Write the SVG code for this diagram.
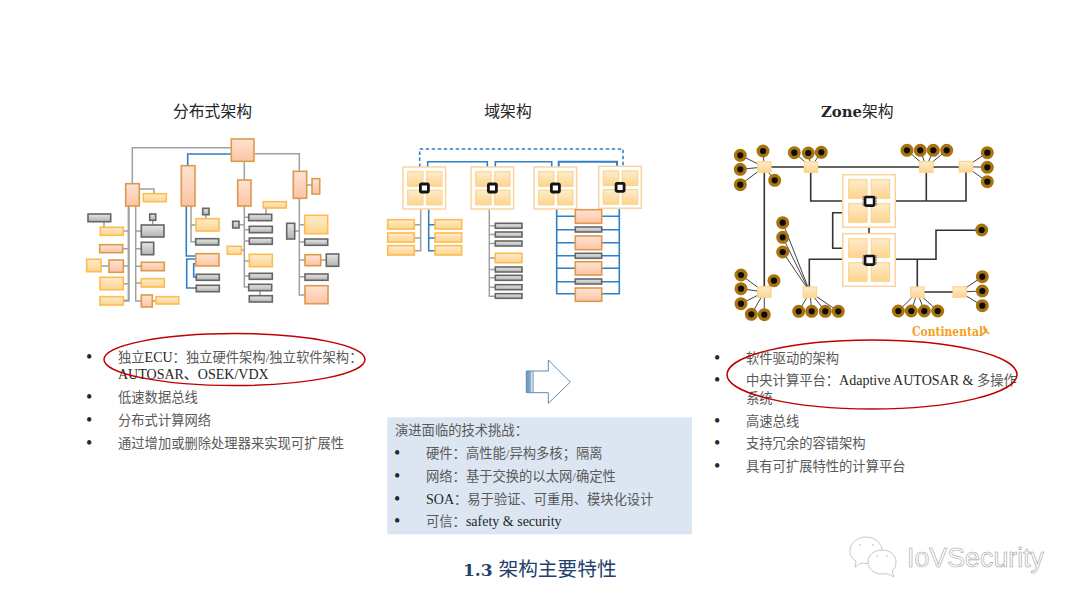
<svg xmlns="http://www.w3.org/2000/svg" xmlns:xlink="http://www.w3.org/1999/xlink" width="1080" height="608" viewBox="0 0 1080 608">
<style>
text{font-family:"Liberation Serif","Noto Sans CJK SC",serif;font-size:13.3px;fill:#595959}
.t{font-size:15.8px;fill:#262626}
.la{fill:#262626;font-size:14px}
.b{fill:#262626;font-size:18px}
.a{fill:url(#ga);stroke:#dd9a4c;stroke-width:1.6}
.y{fill:url(#gy);stroke:#fdbb50;stroke-width:1.6}
.g{fill:url(#gg);stroke:#666;stroke-width:1.6}
.s{fill:url(#gy);stroke:#fbd58e;stroke-width:1.2}
.cg,.cb,.cd,.cdt{fill:none}
.cg{stroke:#a0a0a0;stroke-width:1.5}
.cb{stroke:#2f80c6;stroke-width:1.6}
.cd{stroke:#333;stroke-width:1.6}
.cdt{stroke:#444;stroke-width:1}
.dot{fill:#0c0c0c;stroke:#a8720f;stroke-width:3.4}
.ell{fill:none;stroke:#c00000;stroke-width:1.5}
</style>
<defs>
<linearGradient id="ga" x1="0" y1="0" x2="0" y2="1"><stop offset="0" stop-color="#fee3d3"/><stop offset="1" stop-color="#fcc4a3"/></linearGradient>
<linearGradient id="gy" x1="0" y1="0" x2="0" y2="1"><stop offset="0" stop-color="#feeccd"/><stop offset="1" stop-color="#fdd48e"/></linearGradient>
<linearGradient id="gg" x1="0" y1="0" x2="0" y2="1"><stop offset="0" stop-color="#e6e6e6"/><stop offset="1" stop-color="#b4b4b4"/></linearGradient>
<g id="dom">
<rect x="0" y="0" width="42.6" height="42" fill="#fff" stroke="#fbd3a0" stroke-width="1.5"/>
<rect class="s" x="4.7" y="4.7" width="15.3" height="14.6"/><rect class="s" x="23.7" y="4.7" width="15.3" height="14.6"/>
<rect class="s" x="4.7" y="23.3" width="15.3" height="14.6"/><rect class="s" x="23.7" y="23.3" width="15.3" height="14.6"/>
<rect x="17.4" y="17" width="8" height="8" rx="1.2" fill="#fff" stroke="#151515" stroke-width="2.8"/>
</g>
<g id="cen">
<rect x="0" y="0" width="52.6" height="52.6" fill="#fff" stroke="#fbd3a0" stroke-width="1.5"/>
<rect class="s" x="6" y="5" width="18.3" height="18.6"/><rect class="s" x="28.6" y="5" width="18.3" height="18.6"/>
<rect class="s" x="6" y="29" width="18.3" height="18.6"/><rect class="s" x="28.6" y="29" width="18.3" height="18.6"/>
<rect x="20.4" y="22" width="13" height="8.6" fill="none" stroke="#333" stroke-width="1" stroke-dasharray=".8 .8"/>
<rect x="22.4" y="22.3" width="9" height="8.6" rx="1" fill="#fff" stroke="#151515" stroke-width="2.6"/>
</g>
<circle id="d" class="dot" r="4.8"/>
</defs>
<rect width="1080" height="608" fill="#fff"/>

<text class="t" x="212.500" y="116.500" text-anchor="middle">分布式架构</text>
<text class="t" x="508" y="116.500" text-anchor="middle">域架构</text>
<text class="t" x="821" y="116.500" style="font-family:'DejaVu Serif','Noto Sans CJK SC',serif;font-weight:700;font-size:14px" textLength="41" lengthAdjust="spacingAndGlyphs">Zone</text>
<text class="t" x="862" y="116.500">架构</text>

<g id="connectors">
<path class="cg" d="M231 147.700H132.300V184M254 153.700H299.300V172M244.300 161V180M129 231H123M129 248.700H122.700M129 266H123M129 283.700H123"/>
<path class="cg" style="stroke-width:2.2" d="M128.700 206V300.700H123"/>
<path class="cg" d="M135.700 206V301H141M135.700 231H141M135.700 248.700H141M135.700 266.300H141M135.700 283H141M139.300 189H154V193.700M152.700 220.300V225M104 221.700V227.300M101 266H109M152.300 301H156"/>
<path class="cb" d="M231 154H187.700V166M186.300 206V256H195.700M195.700 259H186.700V288H196.300M195.700 263.700H193.700V277H196.300"/>
<path class="cg" d="M191 206V241.700H195.700M191 225H196M205.800 214.700V218.700"/>
<path class="cg" d="M244.300 206V287H248.700M244.300 217.300H248.700M244.300 229.700H249.300M244.300 241H249.300M244.300 261H249.300M244.300 276H249.300M239 224.700H244.300M241.300 250H244.300M260 290.700V295.700M266 208V214.300"/>
<path class="cg" d="M299.300 198V295H305M299.300 224.700H304.700M299.300 242H304.700M299.300 260H305M299.300 276.700H305M294.700 231H299.300M306.700 185H312M320.700 260H326.300"/>

<path class="cb" stroke-dasharray="3.500 2.500" d="M419.700 167V149H623V166"/>
<path class="cb" d="M427.700 167V161.700H487.300V167M495.300 167V161.700H551.700V167"/>
<path class="cb" style="stroke-width:2" d="M558.700 167V161.700H617V166"/>
<path class="cg" d="M420.700 209V250.700H414.300M420.700 224.700H414.300M420.700 238H414.300M489.300 209V296.300H495.300M489.300 225.800H495.300M489.300 234.500H495.300M489.300 243.500H495.300M489.300 258H495.300M489.300 269.500H495.300M489.300 277.800H495.300M489.300 287.200H495.300"/>
<path class="cb" d="M428.700 209V250.700H435M428.700 224.700H435M428.700 238H435"/>
<path class="cb" d="M556.700 209V293.700H575.300M619.300 208V293.700H601.700M556.700 216.300H575.300M556.700 229.700H575.300M556.700 242.700H575.300M556.700 255.700H575.300M556.700 268.300H575.300M556.700 281.700H575.300M601.700 216.300H619.300M601.700 229.700H619.300M601.700 242.700H619.300M601.700 255.700H619.300M601.700 268.300H619.300M601.700 281.700H619.300"/>

<path class="cd" d="M764.300 167H966M764.300 167V292M810.700 167V201H842.700M926.300 167V201M895.300 201H966V167M869 227.300V233.700M842.700 212.700H832.700V248.300H842.700M842.700 259.300H809.300V292M895.300 259.300H936V230.300H981.700M917.300 259.300V292M917.300 292H959.700"/>
<path class="cdt" d="M764.300 167L740.300 155.300M764.300 167L740.300 169.300M764.300 167L740.300 184.700M764.300 167L763 151M764.300 167L774.700 180.300M811 167L794.300 152.700M811 167L808.300 153M811 167L821.300 152.300M926.300 167L907 150.300M926.300 167L920.300 150.300M926.300 167L933.300 150.300M926.300 167L946.700 150.300M966 166.700L987.300 152.700M966 166.700L987.300 167.300M966 166.700L987.300 181.700M764.300 292L741 275M764.300 292L741 288.700M764.300 292L741 303.700M764.300 292L774 280.700M764.300 292L751.300 314.300M764.300 292L764.300 314.700M810 292.300L782.700 222.700M810 292.300L782.700 237.300M810 292.300L782.700 252M810 292.300L798.700 311.300M810 292.300L811.700 311.300M810 292.300L825.300 311.300M810 292.300L838.300 311.300M917.300 292.300L898.300 311M917.300 292.300L911.300 311M917.300 292.300L924.300 311M917.300 292.300L937.700 311M959.700 292L982.300 276.700M959.700 292L982.300 291M959.700 292L982.300 305.700"/>
</g>

<g id="n-d1-root"><rect class="a" x="231.300" y="139" width="22.700" height="22.300"/></g>
<g id="n-d1-a"><rect class="a" x="125.700" y="183.700" width="13.600" height="22.300"/></g>
<g id="n-d1-b"><rect class="a" x="181.300" y="165.700" width="13.700" height="40.300"/></g>
<g id="n-d1-c"><rect class="a" x="237.700" y="180" width="13.300" height="26"/></g>
<g id="n-d1-d"><rect class="a" x="293.300" y="171.300" width="13.400" height="27"/></g>
<g id="n-d1-d2"><rect class="a" x="312" y="178.700" width="7.700" height="15.300"/></g>
<g id="n-d1-1"><rect class="y" x="143.300" y="193.700" width="23" height="8"/></g>
<g id="n-d1-2"><rect class="g" x="88" y="214" width="22.700" height="7.700"/></g>
<g id="n-d1-3"><rect class="y" x="100.300" y="227.300" width="23" height="8"/></g>
<g id="n-d1-4"><rect class="a" x="99.700" y="244.700" width="23" height="8"/></g>
<g id="n-d1-5"><rect class="y" x="86.700" y="259.300" width="14.300" height="12.400"/></g>
<g id="n-d1-6"><rect class="a" x="109" y="260" width="14.300" height="12.300"/></g>
<g id="n-d1-7"><rect class="y" x="100" y="277.300" width="23.300" height="12.400"/></g>
<g id="n-d1-8"><rect class="y" x="100" y="296.700" width="23.300" height="8.300"/></g>
<g id="n-d1-9"><rect class="g" x="149.700" y="214" width="6" height="6.300"/></g>
<g id="n-d1-10"><rect class="g" x="141.300" y="225" width="22.700" height="12"/></g>
<g id="n-d1-11"><rect class="g" x="141.300" y="242.300" width="12.400" height="12.400"/></g>
<g id="n-d1-12"><rect class="a" x="141.300" y="262.300" width="23" height="8.400"/></g>
<g id="n-d1-13"><rect class="y" x="141.300" y="278.700" width="23" height="8.300"/></g>
<g id="n-d1-14"><rect class="a" x="141.300" y="295" width="11" height="12"/></g>
<g id="n-d1-15"><rect class="y" x="156" y="296.700" width="22.700" height="7.300"/></g>
<g id="n-d1-16"><rect class="g" x="202.700" y="208.300" width="6.300" height="6.400"/></g>
<g id="n-d1-17"><rect class="y" x="196" y="218.700" width="23" height="12.300"/></g>
<g id="n-d1-18"><rect class="g" x="195.700" y="238.700" width="23" height="6.300"/></g>
<g id="n-d1-19"><rect class="a" x="195.700" y="253.700" width="23.300" height="12.300"/></g>
<g id="n-d1-20"><rect class="g" x="196.300" y="274.300" width="23" height="6"/></g>
<g id="n-d1-21"><rect class="g" x="196.300" y="285.300" width="23" height="6.400"/></g>
<g id="n-d1-22"><rect class="y" x="263.300" y="201.700" width="23" height="6.300"/></g>
<g id="n-d1-23"><rect class="g" x="248.700" y="214.300" width="23" height="6.400"/></g>
<g id="n-d1-24"><rect class="g" x="232.700" y="221.300" width="6.300" height="6.700"/></g>
<g id="n-d1-25"><rect class="g" x="249.300" y="226.300" width="23" height="6.400"/></g>
<g id="n-d1-26"><rect class="g" x="249.300" y="238" width="23" height="6.300"/></g>
<g id="n-d1-27"><rect class="y" x="227.300" y="246.300" width="14" height="8"/></g>
<g id="n-d1-28"><rect class="y" x="249.300" y="254.300" width="23" height="12.400"/></g>
<g id="n-d1-29"><rect class="g" x="249.300" y="273.300" width="23" height="6"/></g>
<g id="n-d1-30"><rect class="g" x="248.700" y="284.300" width="23" height="6.400"/></g>
<g id="n-d1-31"><rect class="g" x="249.300" y="295.700" width="23" height="6.300"/></g>
<g id="n-d1-32"><rect class="g" x="286.700" y="223.300" width="8" height="15.700"/></g>
<g id="n-d1-33"><rect class="y" x="304.700" y="215.300" width="23" height="18.400"/></g>
<g id="n-d1-34"><rect class="g" x="304.700" y="239" width="23" height="6.300"/></g>
<g id="n-d1-35"><rect class="a" x="305" y="254.700" width="15.700" height="11"/></g>
<g id="n-d1-36"><rect class="g" x="326.300" y="254" width="12.400" height="12.300"/></g>
<g id="n-d1-37"><rect class="g" x="305" y="274" width="23" height="6.300"/></g>
<g id="n-d1-38"><rect class="a" x="305" y="285.700" width="23" height="18"/></g>

<g id="n-d2-dom1"><use xlink:href="#dom" href="#dom" x="403" y="167"/></g>
<g id="n-d2-dom2"><use xlink:href="#dom" href="#dom" x="471" y="167"/></g>
<g id="n-d2-dom3"><use xlink:href="#dom" href="#dom" x="534" y="167"/></g>
<g id="n-d2-dom4"><use xlink:href="#dom" href="#dom" x="598.700" y="166.300"/></g>
<g id="n-d2-1"><rect class="y" x="387.700" y="219.700" width="26.600" height="9.300"/></g>
<g id="n-d2-2"><rect class="y" x="387.700" y="233" width="26.600" height="9"/></g>
<g id="n-d2-3"><rect class="y" x="387.700" y="245.700" width="26.600" height="9.300"/></g>
<g id="n-d2-4"><rect class="y" x="435" y="219.700" width="26.700" height="9.300"/></g>
<g id="n-d2-5"><rect class="y" x="435" y="233" width="26.700" height="9"/></g>
<g id="n-d2-6"><rect class="y" x="435" y="245.700" width="26.700" height="9.300"/></g>
<g id="n-d2-7"><rect class="g" x="495.300" y="223.300" width="26.700" height="5"/></g>
<g id="n-d2-8"><rect class="g" x="495.300" y="232" width="26.700" height="5"/></g>
<g id="n-d2-9"><rect class="g" x="495.300" y="241" width="26.700" height="5"/></g>
<g id="n-d2-10"><rect class="y" x="495.300" y="253.300" width="26.700" height="9.400"/></g>
<g id="n-d2-11"><rect class="g" x="495.300" y="267" width="26.700" height="5"/></g>
<g id="n-d2-12"><rect class="g" x="495.300" y="275.300" width="26.700" height="5"/></g>
<g id="n-d2-13"><rect class="g" x="495.300" y="284.700" width="26.700" height="5"/></g>
<g id="n-d2-14"><rect class="g" x="495.300" y="293.700" width="26.700" height="4.600"/></g>
<g id="n-d2-15"><rect class="a" x="575.300" y="209.700" width="26.400" height="13.600"/></g>
<g id="n-d2-16"><rect class="g" x="575.300" y="227" width="26.400" height="5"/></g>
<g id="n-d2-17"><rect class="a" x="575.300" y="236" width="26.400" height="13.700"/></g>
<g id="n-d2-18"><rect class="g" x="575.300" y="253.300" width="26.400" height="5"/></g>
<g id="n-d2-19"><rect class="a" x="575.300" y="261.700" width="26.400" height="13.300"/></g>
<g id="n-d2-20"><rect class="g" x="575.300" y="279" width="26.400" height="5"/></g>
<g id="n-d2-21"><rect class="a" x="575.300" y="288" width="26.400" height="13.300"/></g>

<g id="n-d3-cenA"><use xlink:href="#cen" href="#cen" x="842.700" y="174.700"/></g>
<g id="n-d3-cenB"><use xlink:href="#cen" href="#cen" x="842.700" y="233.700"/></g>
<g id="n-d3-sw1"><rect class="s" x="757.700" y="161.700" width="13.300" height="10.600"/></g>
<g id="n-d3-sw2"><rect class="s" x="804.300" y="161.700" width="13.300" height="10.600"/></g>
<g id="n-d3-sw3"><rect class="s" x="919.700" y="161.700" width="13.300" height="10.600"/></g>
<g id="n-d3-sw4"><rect class="s" x="959.300" y="161.400" width="13.300" height="10.600"/></g>
<g id="n-d3-sw5"><rect class="s" x="757.700" y="286.700" width="13.300" height="10.600"/></g>
<g id="n-d3-sw6"><rect class="s" x="803.300" y="287" width="13.300" height="10.600"/></g>
<g id="n-d3-sw7"><rect class="s" x="910.700" y="287" width="13.300" height="10.600"/></g>
<g id="n-d3-sw8"><rect class="s" x="953" y="286.700" width="13.300" height="10.600"/></g>
<g id="n-d3-dots">
<use href="#d" x="740.300" y="155.300"/><use href="#d" x="740.300" y="169.300"/><use href="#d" x="740.300" y="184.700"/><use href="#d" x="763" y="151"/><use href="#d" x="774.700" y="180.300"/>
<use href="#d" x="794.300" y="152.700"/><use href="#d" x="808.300" y="153"/><use href="#d" x="821.300" y="152.300"/>
<use href="#d" x="907" y="150.300"/><use href="#d" x="920.300" y="150.300"/><use href="#d" x="933.300" y="150.300"/><use href="#d" x="946.700" y="150.300"/>
<use href="#d" x="987.300" y="152.700"/><use href="#d" x="987.300" y="167.300"/><use href="#d" x="987.300" y="181.700"/>
<use href="#d" x="741" y="275"/><use href="#d" x="741" y="288.700"/><use href="#d" x="741" y="303.700"/><use href="#d" x="774" y="280.700"/><use href="#d" x="751.300" y="314.300"/><use href="#d" x="764.300" y="314.700"/>
<use href="#d" x="782.700" y="222.700"/><use href="#d" x="782.700" y="237.300"/><use href="#d" x="782.700" y="252"/>
<use href="#d" x="798.700" y="311.300"/><use href="#d" x="811.700" y="311.300"/><use href="#d" x="825.300" y="311.300"/><use href="#d" x="838.300" y="311.300"/>
<use href="#d" x="898.300" y="311"/><use href="#d" x="911.300" y="311"/><use href="#d" x="924.300" y="311"/><use href="#d" x="937.700" y="311"/>
<use href="#d" x="982.300" y="276.700"/><use href="#d" x="982.300" y="291"/><use href="#d" x="982.300" y="305.700"/><use href="#d" x="981.700" y="230"/>
</g>
<g id="continental">
<text x="912" y="335.500" style="font-weight:700;font-size:12.500px;fill:#f5a01e;font-family:'DejaVu Serif',serif" textLength="71" lengthAdjust="spacingAndGlyphs">Continental</text>
<path d="M984 325l2 3.500 2 .5-1.500 1.500 3 2.500-.5 1.500-3-2-3 2.500-1.500-.5 3-3.500-1.500-3z" fill="#f5a01e"/>
</g>

<g id="text-left">
<text x="86" y="363.400" class="b">•</text><text x="118" y="362">独立<tspan class="la">ECU</tspan>&#xFF1A;独立硬件架构/独立软件架构&#xFF1A;</text>
<text x="118" y="379" class="la">AUTOSAR、OSEK/VDX</text>
<text x="86" y="403.400" class="b">•</text><text x="118" y="402">低速数据总线</text>
<text x="86" y="426.400" class="b">•</text><text x="118" y="425">分布式计算网络</text>
<text x="86" y="449.400" class="b">•</text><text x="118" y="448">通过增加或删除处理器来实现可扩展性</text>
</g>
<ellipse class="ell" cx="234.500" cy="359.500" rx="130.500" ry="26"/>

<g id="arrow" fill="#fff" stroke="#5f8bb4" stroke-width="1">
<path d="M526.300 371H548.300V360L570.300 382L548.300 403.300V392.700H526.300Z"/>
<path d="M526.800 371.500H529.200V392.200H526.800ZM530.800 371V392.700M533 371V392.700" fill="#7ea3c6"/>
</g>

<g id="challenges">
<rect x="387.300" y="417.300" width="304.700" height="117" fill="#dce6f2"/>
<text x="395" y="435">演进面临的技术挑战&#xFF1A;</text>
<text x="394" y="459.400" class="b">•</text><text x="426" y="458">硬件&#xFF1A;高性能/异构多核&#xFF1B;隔离</text>
<text x="394" y="482.400" class="b">•</text><text x="426" y="481">网络&#xFF1A;基于交换的以太网/确定性</text>
<text x="394" y="504.900" class="b">•</text><text x="426" y="503.500"><tspan class="la">SOA</tspan>&#xFF1A;易于验证、可重用、模块化设计</text>
<text x="394" y="527.400" class="b">•</text><text x="426" y="526">可信&#xFF1A;<tspan class="la">safety &amp; security</tspan></text>
</g>

<g id="text-right">
<text x="714" y="364.400" class="b">•</text><text x="746" y="363">软件驱动的架构</text>
<text x="714" y="386.400" class="b">•</text><text x="746" y="385">中央计算平台&#xFF1A;<tspan class="la">Adaptive AUTOSAR &amp; </tspan>多操作</text>
<text x="746" y="402.500">系统</text>
<text x="714" y="426.900" class="b">•</text><text x="746" y="425.500">高速总线</text>
<text x="714" y="449.400" class="b">•</text><text x="746" y="448">支持冗余的容错架构</text>
<text x="714" y="472.400" class="b">•</text><text x="746" y="471">具有可扩展特性的计算平台</text>
</g>
<ellipse class="ell" cx="872" cy="374.500" rx="145" ry="34.500"/>

<text x="463" y="576" style="font-size:19.700px;fill:#243f6b"><tspan style="font-family:'DejaVu Serif',serif;font-weight:700;font-size:17px">1.3 </tspan>架构主要特性</text>

<g id="watermark">
<path d="M866 537c-9 0-16 6-16 14 0 4 2 8 6 10l-1 6 6-4c2 .5 3 .5 5 .5 9 0 16-6 16-13s-7-13.500-16-13.500z" fill="#fff" stroke="#c8c8c8" stroke-width="1"/>
<path d="M882 550c-8 0-14 5-14 12s6 12 14 12c2 0 3 0 5-.5l7 3.500-2-6c3-2 4-5 4-9 0-7-6-12-14-12z" fill="#fff" stroke="#c8c8c8" stroke-width="1"/>
<circle cx="860" cy="545" r="1" fill="#d0d0d0"/><circle cx="873" cy="545" r="1" fill="#d0d0d0"/><circle cx="877" cy="556" r="1" fill="#d0d0d0"/><circle cx="887" cy="556" r="1" fill="#d0d0d0"/>
<text x="907" y="567" textLength="137" lengthAdjust="spacingAndGlyphs" style="font-family:'Liberation Sans',sans-serif;font-size:27px;fill:#fff;stroke:#a0a0a0;stroke-width:.6">IoVSecurity</text>
</g>
</svg>
